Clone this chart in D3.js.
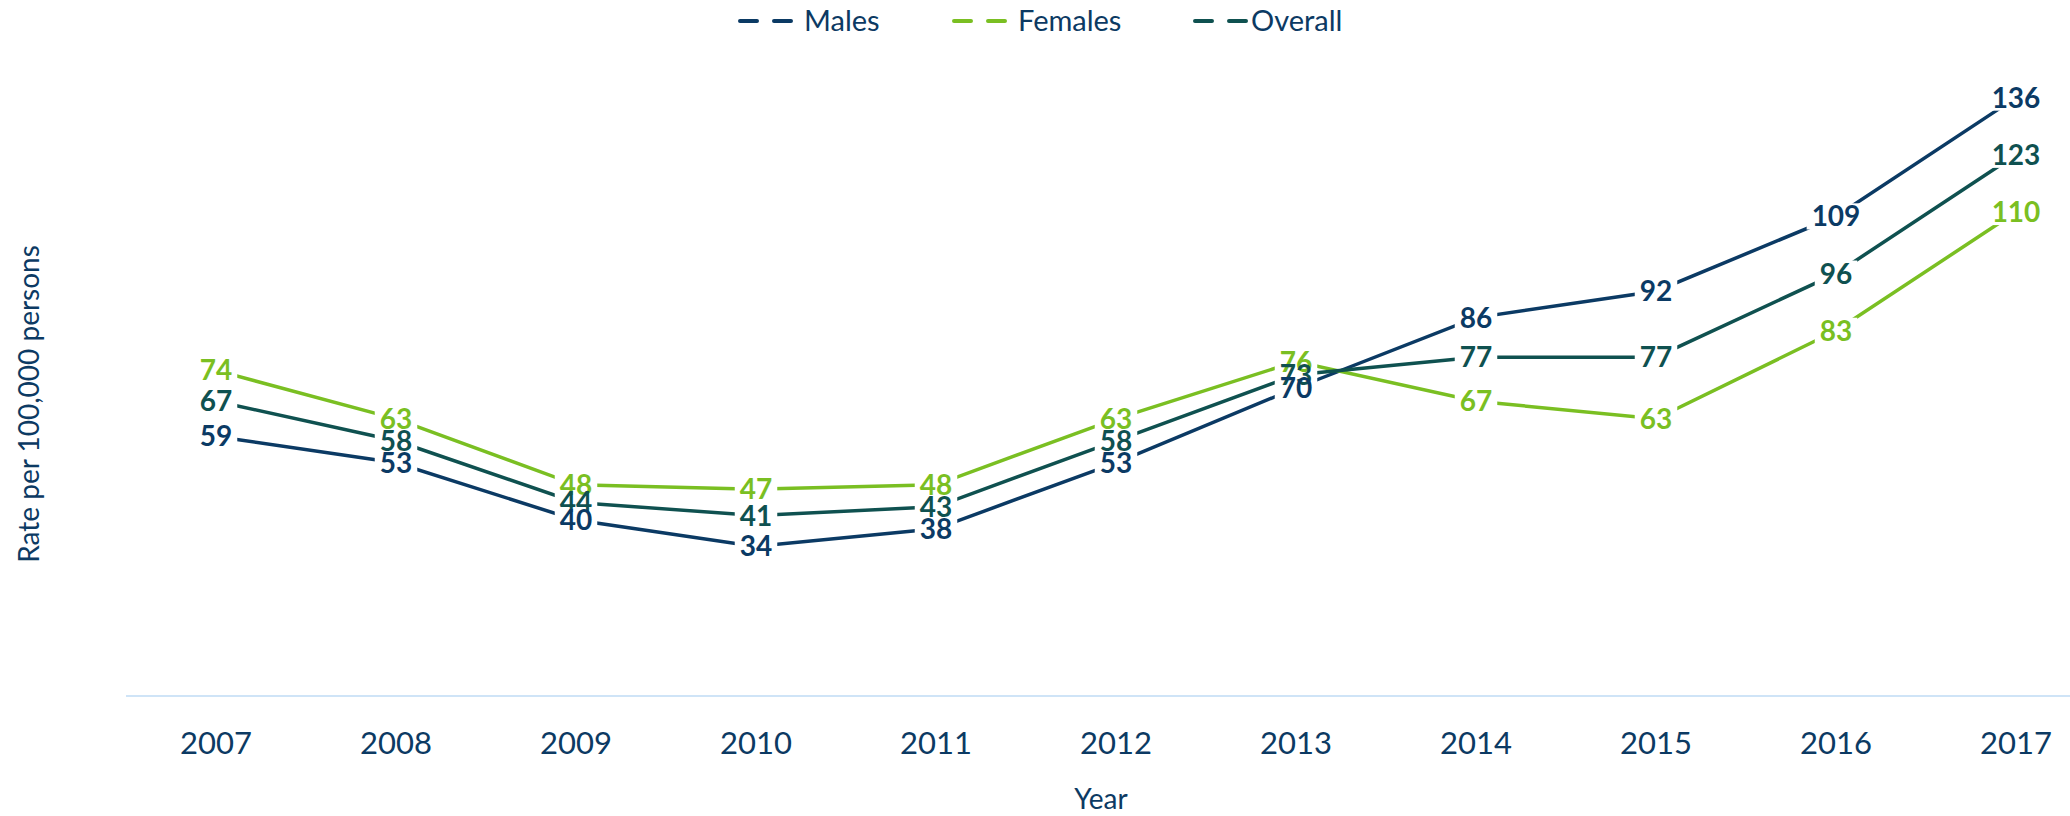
<!DOCTYPE html>
<html>
<head>
<meta charset="utf-8">
<script src="https://cdn.jsdelivr.net/npm/d3@7"></script>
<style>
  html, body { margin: 0; padding: 0; background: #fff; }
  svg { display: block; font-family: Lato, "Open Sans", sans-serif; }
</style>
</head>
<body>
<svg id="chart" width="2070" height="816"></svg>
<script>
// chart values
const years = ["2007", "2008", "2009", "2010", "2011", "2012", "2013", "2014", "2015", "2016", "2017"];
const males = [59, 53, 40, 34, 38, 53, 70, 86, 92, 109, 136];
const females = [74, 63, 48, 47, 48, 63, 76, 67, 63, 83, 110];
const overall = [67, 58, 44, 41, 43, 58, 73, 77, 77, 96, 123];
const seriesNames = ["Males", "Females", "Overall"];

const textColor = "#0c3a63";
let colorPicker = function(name) {
  switch (name) {
    case "Males": return "#0b3a64";
    case "Females": return "#7abf22";
    case "Overall": return "#0f5150";
    default: return "black";
  }
};

let series = [
  { name: "Males", values: males },
  { name: "Females", values: females },
  { name: "Overall", values: overall }
];

let svg = d3.select("#chart");

let xScale = d3.scaleBand()
  .domain(years)
  .range([126, 2106])
  .padding(0);

let yScale = d3.scaleLinear()
  .domain([0, 150])
  .range([696, 36]);

let xPos = function(i) { return xScale(years[i]) + xScale.bandwidth() / 2; };

// baseline
svg.append("line")
  .attr("x1", 126).attr("x2", 2070)
  .attr("y1", yScale(0)).attr("y2", yScale(0))
  .attr("stroke", "#cfe4f7")
  .attr("stroke-width", 2);

// x axis labels
let xAxis = d3.axisBottom(xScale).tickSize(0).tickPadding(0);
let axisG = svg.append("g")
  .attr("transform", `translate(0, ${yScale(0) + 58})`)
  .call(xAxis);
axisG.select(".domain").remove();
axisG.selectAll("text")
  .attr("dy", 0)
  .attr("font-family", "Lato, 'Open Sans', sans-serif")
  .attr("font-size", 31)
  .attr("fill", textColor);

// axis titles
svg.append("text")
  .attr("x", 1101).attr("y", 809)
  .attr("text-anchor", "middle")
  .attr("font-size", 28)
  .attr("fill", textColor)
  .text("Year");

svg.append("text")
  .attr("transform", "translate(39, 404) rotate(-90)")
  .attr("text-anchor", "middle")
  .attr("font-size", 28)
  .attr("fill", textColor)
  .text("Rate per 100,000 persons");

// legend
let legendItems = [
  { name: "Males", x: 738 },
  { name: "Females", x: 952 },
  { name: "Overall", x: 1193 }
];
let legend = svg.append("g");
legendItems.forEach(function(item) {
  legend.append("line")
    .attr("x1", item.x + 2).attr("x2", item.x + 54)
    .attr("y1", 21).attr("y2", 21)
    .attr("stroke", colorPicker(item.name))
    .attr("stroke-width", 4)
    .attr("stroke-linecap", "round")
    .attr("stroke-dasharray", "17 17");
  legend.append("text")
    .attr("x", item.name === "Overall" ? item.x + 58 : item.x + 66)
    .attr("y", 31)
    .attr("font-size", 29)
    .attr("fill", textColor)
    .text(item.name);
});

// lines (masked around their own labels)
let defs = svg.append("defs");
let line = d3.line()
  .x(function(d, i) { return xPos(i); })
  .y(function(d) { return yScale(d); });

let labelSize = 28;
let lineG = svg.append("g");
let labelG = svg.append("g");

series.forEach(function(s, si) {
  let mask = defs.append("mask")
    .attr("id", "mask-" + si)
    .attr("maskUnits", "userSpaceOnUse")
    .attr("x", 0).attr("y", 0).attr("width", 2070).attr("height", 816);
  mask.append("rect")
    .attr("width", 2070).attr("height", 816)
    .attr("fill", "white");

  s.values.forEach(function(v, i) {
    // measure label width
    let t = labelG.append("text")
      .attr("font-size", labelSize)
      .attr("font-weight", "bold")
      .text(v);
    let w = t.node().getComputedTextLength();
    t.remove();
    let h = labelSize * 0.72;
    mask.append("rect")
      .attr("x", xPos(i) - w / 2 - 5)
      .attr("y", yScale(v) - h / 2 - 3)
      .attr("width", w + 10)
      .attr("height", h + 6)
      .attr("fill", "black");
  });

  lineG.append("path")
    .datum(s.values)
    .attr("d", line)
    .attr("fill", "none")
    .attr("stroke", colorPicker(s.name))
    .attr("stroke-width", 3.5)
    .attr("mask", "url(#mask-" + si + ")");
});

// data labels
["Females", "Overall", "Males"].forEach(function(name) {
  let s = series.find(function(d) { return d.name === name; });
  labelG.selectAll(null)
    .data(s.values)
    .enter()
    .append("text")
    .attr("x", function(d, i) { return xPos(i); })
    .attr("y", function(d) { return yScale(d) + labelSize * 0.36; })
    .attr("text-anchor", "middle")
    .attr("font-size", labelSize)
    .attr("font-weight", "bold")
    .attr("fill", colorPicker(name))
    .text(function(d) { return d; });
});
</script>
</body>
</html>
